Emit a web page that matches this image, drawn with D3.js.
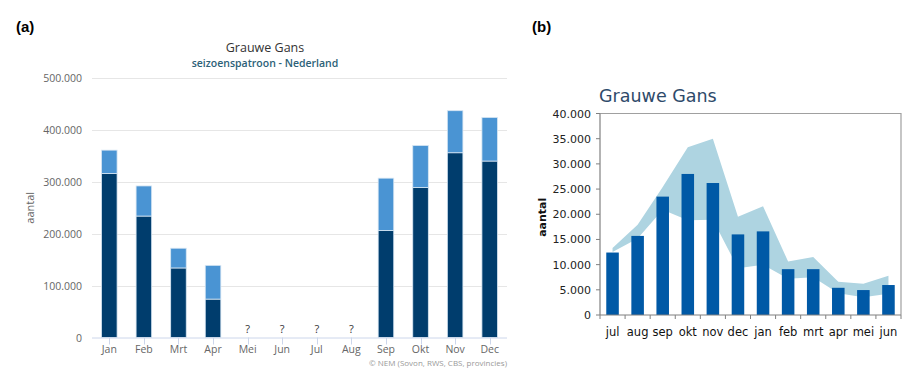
<!DOCTYPE html>
<html><head><meta charset="utf-8">
<script src="https://cdn.jsdelivr.net/npm/d3@7/dist/d3.min.js"></script>
<style>body{margin:0;background:#fff}svg{display:block}</style>
</head><body>
<svg id="c" width="919" height="369"></svg>
<script>
// Panel (a): Highcharts-style stacked bars
const monthsA = ["Jan","Feb","Mrt","Apr","Mei","Jun","Jul","Aug","Sep","Okt","Nov","Dec"];
const baseA = [316000,234000,134000,74000,null,null,null,null,206000,289000,356000,340000];
const extraA = [45000,58000,38000,65000,null,null,null,null,101000,81000,81000,84000];
const ticksA = [0,100000,200000,300000,400000,500000];

// Panel (b): bars with range band
const monthsB = ["jul","aug","sep","okt","nov","dec","jan","feb","mrt","apr","mei","jun"];
const barsB = [12400,15700,23500,28000,26200,16000,16600,9100,9100,5400,4950,5950];
const bandLowB = [12500,15200,20900,18800,18900,9300,10000,7200,7500,4300,3500,4200];
const bandHighB = [13300,17900,25400,33300,35000,19500,21600,10600,11500,6600,6200,7800];
const ticksB = [0,5000,10000,15000,20000,25000,30000,35000,40000];

const fmt = v => v===0 ? "0" : d3.format(",")(v).replace(/,/g,".");
const svg = d3.select("#c");

// labels (a) (b)
svg.append("text").attr("x",16).attr("y",32).attr("font-family","Liberation Sans, Arial, sans-serif")
  .attr("font-weight","bold").attr("font-size",15).attr("fill","#000").text("(a)");
svg.append("text").attr("x",532).attr("y",32).attr("font-family","Liberation Sans, Arial, sans-serif")
  .attr("font-weight","bold").attr("font-size",15).attr("fill","#000").text("(b)");

// ---------- Panel A ----------
{
  const L=92, R=507, T=78, B=337.5;
  const g = svg.append("g").attr("font-family","'Open Sans', 'DejaVu Sans', sans-serif");
  const x = d3.scaleBand().domain(monthsA).range([L,R]).paddingInner(0.55).paddingOuter(0.275);
  const xc = d => x(d)+x.bandwidth()/2;
  const y = d3.scaleLinear().domain([0,500000]).range([B,T]);

  // grid
  g.append("g").selectAll("line").data(ticksA.slice(1)).join("line")
    .attr("x1",L).attr("x2",R).attr("y1",d=>Math.round(y(d))+0.5).attr("y2",d=>Math.round(y(d))+0.5)
    .attr("stroke","#e6e6e6").attr("stroke-width",1);
  // y axis labels
  g.append("g").selectAll("text").data(ticksA).join("text")
    .attr("x",82).attr("y",d=>y(d)+4).attr("text-anchor","end")
    .attr("font-size",10.5).attr("fill","#666").text(fmt);
  // y title
  g.append("text").attr("transform",`translate(34,${(T+B)/2}) rotate(-90)`)
    .attr("text-anchor","middle").attr("font-size",11).attr("fill","#666").text("aantal");

  // bars
  const idx = d3.range(monthsA.length).filter(i=>baseA[i]!=null);
  g.append("g").selectAll("rect").data(idx).join("rect")
    .attr("x",i=>x(monthsA[i])).attr("width",x.bandwidth())
    .attr("y",i=>y(baseA[i])).attr("height",i=>y(0)-y(baseA[i]))
    .attr("fill","#003d6d").attr("stroke","#d7e6f3").attr("stroke-width",0.8);
  g.append("g").selectAll("rect").data(idx).join("rect")
    .attr("x",i=>x(monthsA[i])).attr("width",x.bandwidth())
    .attr("y",i=>y(baseA[i]+extraA[i])).attr("height",i=>y(baseA[i])-y(baseA[i]+extraA[i]))
    .attr("fill","#4a94d3").attr("stroke","#d7e6f3").attr("stroke-width",0.8);
  // missing
  g.append("g").selectAll("text").data(d3.range(monthsA.length).filter(i=>baseA[i]==null)).join("text")
    .attr("x",i=>xc(monthsA[i])).attr("y",333).attr("text-anchor","middle")
    .attr("font-size",11).attr("fill","#333").text("?");

  // x axis
  g.append("line").attr("x1",L).attr("x2",R).attr("y1",B+0.5).attr("y2",B+0.5).attr("stroke","#ccd6eb");
  g.append("g").selectAll("line").data(monthsA).join("line")
    .attr("x1",d=>Math.round(xc(d))+0.5).attr("x2",d=>Math.round(xc(d))+0.5).attr("y1",B).attr("y2",B+7)
    .attr("stroke","#ccd6eb");
  g.append("g").selectAll("text").data(monthsA).join("text")
    .attr("x",xc).attr("y",353).attr("text-anchor","middle").attr("font-size",10.5).attr("fill","#666").text(d=>d);

  // titles
  g.append("text").attr("x",265).attr("y",52).attr("text-anchor","middle").attr("font-size",12.5)
    .attr("fill","#333").text("Grauwe Gans");
  g.append("text").attr("x",265).attr("y",67).attr("text-anchor","middle").attr("font-size",10.5)
    .attr("font-weight",600).attr("fill","#2c6177").text("seizoenspatroon - Nederland");
  g.append("text").attr("x",507).attr("y",366).attr("text-anchor","end").attr("font-size",8)
    .attr("fill","#999").text("© NEM (Sovon, RWS, CBS, provincies)");
}

// ---------- Panel B ----------
{
  const L=600, R=901, T=113.5, B=315;
  const g = svg.append("g").attr("font-family","'DejaVu Sans', Verdana, sans-serif");
  const x = d3.scaleBand().domain(monthsB).range([L,R]).paddingInner(0.5).paddingOuter(0.25);
  const xc = d => x(d)+x.bandwidth()/2;
  const y = d3.scaleLinear().domain([0,40000]).range([B,T]);

  // band
  const area = d3.area().x((d,i)=>xc(monthsB[i])).y0((d,i)=>y(bandLowB[i])).y1(d=>y(d));
  g.append("path").datum(bandHighB).attr("d",area).attr("fill","#aed4e1");

  // bars
  g.append("g").selectAll("rect").data(barsB).join("rect")
    .attr("x",(d,i)=>x(monthsB[i])).attr("width",x.bandwidth())
    .attr("y",d=>y(d)).attr("height",d=>B-y(d)).attr("fill","#0059a6");

  // frame
  g.append("path").attr("d",`M${L},${T}H${R}V${B}`).attr("fill","none").attr("stroke","#a0a0a0").attr("stroke-width",1.2);
  g.append("line").attr("x1",L).attr("x2",L).attr("y1",T).attr("y2",B).attr("stroke","#808080").attr("stroke-width",1.2);
  g.append("line").attr("x1",L).attr("x2",R).attr("y1",B).attr("y2",B).attr("stroke","#808080").attr("stroke-width",1.2);

  // y ticks
  g.append("g").selectAll("line").data(ticksB).join("line")
    .attr("x1",L-4).attr("x2",L).attr("y1",d=>y(d)).attr("y2",d=>y(d)).attr("stroke","#808080");
  g.append("g").selectAll("text").data(ticksB).join("text")
    .attr("x",591).attr("y",d=>y(d)+4).attr("text-anchor","end").attr("font-size",11)
    .attr("fill","#222").text(fmt);
  // x ticks at boundaries
  const bounds = d3.range(monthsB.length+1).map(i=>L+(R-L)*i/monthsB.length);
  g.append("g").selectAll("line").data(bounds).join("line")
    .attr("x1",d=>d).attr("x2",d=>d).attr("y1",B).attr("y2",B+4).attr("stroke","#808080");
  g.append("g").selectAll("text").data(monthsB).join("text")
    .attr("x",xc).attr("y",336).attr("text-anchor","middle").attr("font-size",11.5)
    .attr("fill","#111").text(d=>d);

  g.append("text").attr("transform",`translate(546,${(T+B)/2+3}) rotate(-90)`)
    .attr("text-anchor","middle").attr("font-size",11).attr("font-weight","bold").attr("fill","#111").text("aantal");

  g.append("text").attr("x",599).attr("y",102).attr("font-size",17.5)
    .attr("fill","#2e4a6a").text("Grauwe Gans");
}
</script>
</body></html>
